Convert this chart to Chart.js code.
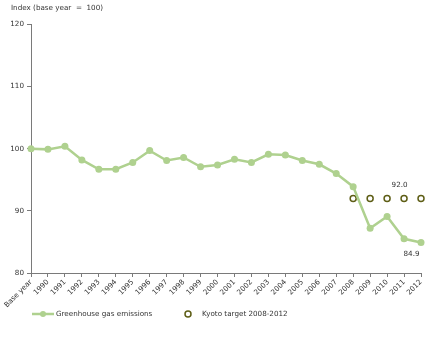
<!DOCTYPE html>
<html>
<head>
<meta charset="utf-8">
<script src="https://cdn.jsdelivr.net/npm/chart.js@4/dist/chart.umd.min.js"></script>
<style>
html,body{margin:0;padding:0;background:#fff;}
#wrap{position:relative;width:430px;height:340px;}
</style>
</head>
<body>
<div id="wrap"><canvas id="c" width="430" height="340"></canvas></div>
<script>
const categories = ["Base year","1990","1991","1992","1993","1994","1995","1996","1997","1998","1999","2000","2001","2002","2003","2004","2005","2006","2007","2008","2009","2010","2011","2012"];
const emissions = [100.0,99.9,100.4,98.2,96.7,96.7,97.8,99.7,98.1,98.6,97.1,97.4,98.3,97.8,99.1,99.0,98.1,97.5,96.0,93.9,87.2,89.1,85.5,84.9];
const kyoto = [null,null,null,null,null,null,null,null,null,null,null,null,null,null,null,null,null,null,null,92.0,92.0,92.0,92.0,92.0];
const yTicks = [80,90,100,110,120];
const axisTitle = "Index (base year  =  100)";
const seriesNames = ["Greenhouse gas emissions","Kyoto target 2008-2012"];

const GREEN = "#afd18f";
const OLIVE = "#5e5e16";
const AXIS = "#7a7a7a";
const TXT = "#333333";
const FONT = "'DejaVu Sans', Verdana, sans-serif";
const FS = 7.2;

const extras = {
  id: "extras",
  afterDraw(chart) {
    const ctx = chart.ctx;
    const xs = chart.scales.x, ys = chart.scales.y;
    ctx.save();
    ctx.font = FS + "px " + FONT;
    ctx.fillStyle = TXT;
    ctx.textBaseline = "middle";
    // axis title
    ctx.textAlign = "left";
    ctx.fillText(axisTitle, 11, 8);
    // data labels
    ctx.textAlign = "center";
    const kx = xs.getPixelForValue(21);
    ctx.fillText(kyoto[21].toFixed(1), kx + 12.5, ys.getPixelForValue(kyoto[21]) - 13);
    const last = emissions.length - 1;
    ctx.fillText(emissions[last].toFixed(1), xs.getPixelForValue(last) - 9.5, ys.getPixelForValue(emissions[last]) + 11.5);
    // legend
    const ly = 314;
    ctx.strokeStyle = GREEN;
    ctx.lineWidth = 2.5;
    ctx.beginPath(); ctx.moveTo(32, ly); ctx.lineTo(54, ly); ctx.stroke();
    ctx.fillStyle = GREEN;
    ctx.beginPath(); ctx.arc(43, ly, 3, 0, Math.PI * 2); ctx.fill();
    ctx.fillStyle = TXT;
    ctx.textAlign = "left";
    ctx.fillText(seriesNames[0], 56, ly);
    ctx.strokeStyle = OLIVE;
    ctx.lineWidth = 1.5;
    ctx.beginPath(); ctx.arc(188, ly, 3, 0, Math.PI * 2); ctx.stroke();
    ctx.fillText(seriesNames[1], 202, ly);
    ctx.restore();
  }
};

new Chart(document.getElementById("c"), {
  type: "line",
  data: {
    labels: categories,
    datasets: [
      {
        label: seriesNames[0],
        data: emissions,
        borderColor: GREEN,
        backgroundColor: GREEN,
        borderWidth: 2.5,
        pointRadius: 3.5,
        pointBorderWidth: 0,
        pointBackgroundColor: GREEN,
        tension: 0
      },
      {
        label: seriesNames[1],
        data: kyoto,
        showLine: false,
        pointStyle: "circle",
        pointRadius: 3,
        pointBorderWidth: 1.5,
        pointBorderColor: OLIVE,
        pointBackgroundColor: "rgba(255,255,255,0)"
      }
    ]
  },
  options: {
    responsive: false,
    animation: false,
    events: [],
    layout: { padding: { top: 24.5, right: 9, left: 0, bottom: 0 } },
    plugins: { legend: { display: false }, tooltip: { enabled: false } },
    scales: {
      x: {
        type: "category",
        offset: false,
        grid: { display: true, drawOnChartArea: false, drawTicks: true, tickLength: 4, color: AXIS, lineWidth: 1 },
        border: { display: true, color: AXIS, width: 1 },
        ticks: { autoSkip: false, maxRotation: 45, minRotation: 45, padding: 1, color: TXT, font: { family: FONT, size: FS } },
        afterFit(s) { s.height = 67; }
      },
      y: {
        min: 80, max: 120,
        afterBuildTicks(s) { s.ticks = yTicks.map(v => ({ value: v })); },
        grid: { display: true, drawOnChartArea: false, drawTicks: true, tickLength: 4, color: AXIS, lineWidth: 1 },
        border: { display: true, color: AXIS, width: 1 },
        ticks: { padding: 3, color: TXT, font: { family: FONT, size: FS } },
        afterFit(s) { s.width = 31; }
      }
    }
  },
  plugins: [extras]
});
</script>
</body>
</html>
